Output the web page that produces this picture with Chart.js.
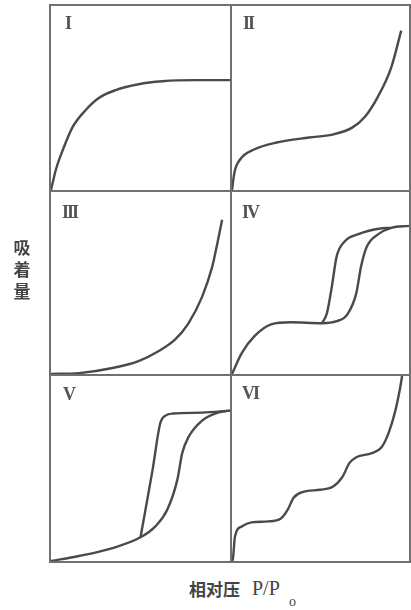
<!DOCTYPE html>
<html>
<head>
<meta charset="utf-8">
<script src="https://cdn.jsdelivr.net/npm/chart.js@4/dist/chart.umd.min.js"></script>
<style>
  html, body { margin: 0; padding: 0; background: #fff; }
  body { width: 411px; height: 610px; position: relative; overflow: hidden; }
  .panel { position: absolute; box-sizing: border-box; border: 2px solid #707070; }
  .panel .inner { position: relative; width: 100%; height: 100%; }
  .roman { position: absolute; font-family: "Liberation Serif", "DejaVu Serif", serif; font-weight: bold;
           font-size: 18px; line-height: 18px; letter-spacing: -2px; color: #555; }
  .cjk { position: absolute; font-family: "Noto Sans CJK SC", sans-serif; font-weight: bold; color: #444; }
  .serif { position: absolute; font-family: "Liberation Serif", serif; color: #444; }
</style>
</head>
<body>
<div id="root"></div>
<div class="cjk" style="left:13px; top:236px; font-size:17px; line-height:22px; width:18px; text-align:center;">吸<br>着<br>量</div>
<div class="cjk" style="left:189px; top:578px; font-size:17px; line-height:22px;">相对压</div>
<div class="serif" style="left:252px; top:577px; font-size:20px; line-height:22px;">P/P</div>
<div class="serif" style="left:289px; top:595px; font-size:14px; line-height:14px;">o</div>
<script>
// panel labels and frames
const panelLabels = ['I', 'II', 'III', 'IV', 'V', 'VI'];

// Type I
const typeI_x = [0, 0.028, 0.067, 0.122, 0.194, 0.267, 0.361, 0.489, 0.622, 0.806, 1.0];
const typeI_y = [0, 0.113, 0.22, 0.344, 0.435, 0.5, 0.543, 0.575, 0.591, 0.597, 0.597];

// Type II
const typeII_x = [0, 0.014, 0.047, 0.125, 0.252, 0.435, 0.568, 0.679, 0.751, 0.823, 0.9, 0.956];
const typeII_y = [0, 0.097, 0.167, 0.22, 0.258, 0.285, 0.301, 0.339, 0.398, 0.505, 0.667, 0.866];

// Type III
const typeIII_x = [0, 0.156, 0.344, 0.489, 0.6, 0.694, 0.767, 0.844, 0.9, 0.928, 0.956];
const typeIII_y = [0, 0.005, 0.033, 0.071, 0.125, 0.19, 0.277, 0.424, 0.587, 0.712, 0.848];

// Type IV (adsorption / desorption)
const typeIV_ads_x = [0, 0.055, 0.127, 0.221, 0.331, 0.508, 0.591, 0.652, 0.702, 0.729, 0.762, 0.829, 0.9, 1.0];
const typeIV_ads_y = [0, 0.115, 0.208, 0.273, 0.284, 0.279, 0.29, 0.328, 0.443, 0.59, 0.7, 0.77, 0.803, 0.814];
const typeIV_des_x = [0.508, 0.536, 0.564, 0.591, 0.635, 0.718, 0.829, 0.9];
const typeIV_des_y = [0.279, 0.333, 0.48, 0.645, 0.727, 0.77, 0.798, 0.803];

// Type V (adsorption / desorption)
const typeV_ads_x = [0, 0.156, 0.344, 0.5, 0.583, 0.65, 0.706, 0.733, 0.767, 0.844, 0.933, 1.0];
const typeV_ads_y = [0, 0.027, 0.07, 0.128, 0.187, 0.278, 0.44, 0.583, 0.668, 0.759, 0.802, 0.813];
const typeV_des_x = [0.5, 0.567, 0.61, 0.64, 0.683, 0.844, 1.0];
const typeV_des_y = [0.128, 0.49, 0.743, 0.786, 0.797, 0.802, 0.813];

// Type VI
const typeVI_x = [0, 0.005, 0.017, 0.055, 0.11, 0.204, 0.276, 0.315, 0.348, 0.403, 0.497, 0.569, 0.624, 0.663, 0.702, 0.79, 0.845, 0.884, 0.923, 0.95, 0.961];
const typeVI_y = [0, 0.011, 0.134, 0.187, 0.209, 0.214, 0.23, 0.278, 0.342, 0.374, 0.385, 0.401, 0.455, 0.529, 0.561, 0.583, 0.615, 0.69, 0.813, 0.936, 1.0];

const zip = (xs, ys) => xs.map((x, i) => ({x: x, y: ys[i]}));

const panels = [
  {label: panelLabels[0], box: [49, 4, 183, 188], lab: [65, 14], series: [zip(typeI_x, typeI_y)]},
  {label: panelLabels[1], box: [230, 4, 181, 188], lab: [243, 14], series: [zip(typeII_x, typeII_y)]},
  {label: panelLabels[2], box: [49, 190, 183, 186], lab: [62, 203], series: [zip(typeIII_x, typeIII_y)]},
  {label: panelLabels[3], box: [230, 190, 181, 186], lab: [242, 203], series: [zip(typeIV_ads_x, typeIV_ads_y), zip(typeIV_des_x, typeIV_des_y)]},
  {label: panelLabels[4], box: [49, 374, 183, 189], lab: [63, 385], series: [zip(typeV_ads_x, typeV_ads_y), zip(typeV_des_x, typeV_des_y)]},
  {label: panelLabels[5], box: [230, 374, 181, 189], lab: [242, 384], series: [zip(typeVI_x, typeVI_y)]},
];

const root = document.getElementById('root');

panels.forEach((p) => {
  const div = document.createElement('div');
  div.className = 'panel';
  div.style.left = p.box[0] + 'px';
  div.style.top = p.box[1] + 'px';
  div.style.width = p.box[2] + 'px';
  div.style.height = p.box[3] + 'px';
  const inner = document.createElement('div');
  inner.className = 'inner';
  const canvas = document.createElement('canvas');
  inner.appendChild(canvas);
  div.appendChild(inner);
  root.appendChild(div);

  const lab = document.createElement('div');
  lab.className = 'roman';
  lab.style.left = p.lab[0] + 'px';
  lab.style.top = p.lab[1] + 'px';
  lab.textContent = p.label;
  root.appendChild(lab);

  new Chart(canvas, {
    type: 'line',
    data: {
      datasets: p.series.map((s) => ({
        data: s,
        borderColor: '#4a4a4a',
        borderWidth: 2.4,
        pointRadius: 0,
        fill: false,
        cubicInterpolationMode: 'monotone',
        clip: 3,
      })),
    },
    options: {
      responsive: true,
      maintainAspectRatio: false,
      animation: false,
      layout: { padding: 0 },
      plugins: { legend: { display: false }, tooltip: { enabled: false } },
      scales: {
        x: { type: 'linear', min: 0, max: 1, display: false },
        y: { type: 'linear', min: 0, max: 1, display: false },
      },
    },
  });
});
</script>
</body>
</html>
